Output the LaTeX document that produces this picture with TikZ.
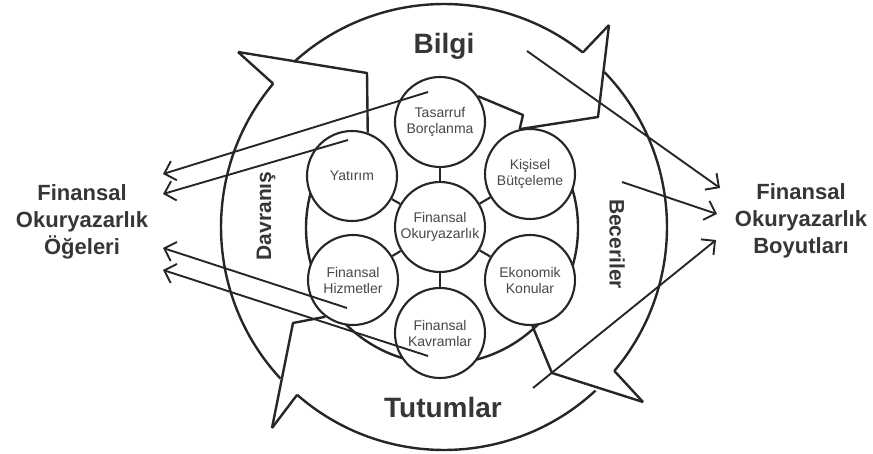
\documentclass[tikz,border=0pt]{standalone}
\usepackage{fontspec}
\setmainfont{Liberation Sans}
\usetikzlibrary{arrows.meta}
\definecolor{inkgray}{HTML}{262626}
\definecolor{labelgray}{HTML}{363636}
\definecolor{smallgray}{HTML}{484848}

\begin{document}
\begin{tikzpicture}[x=1pt,y=-1pt,
  ring/.style={draw=inkgray,line width=2.4pt,line join=round},
  topic/.style={circle,draw=inkgray,line width=2.1pt,fill=white,
    minimum size=90pt,inner sep=0pt,align=center,text=smallgray,
    font=\fontsize{14}{16}\selectfont},
  pointer/.style={draw=inkgray,line width=1.9pt,
    -{Straight Barb[length=10pt,width=20pt]}},
  sidelabel/.style={align=center,text=labelgray,
    font=\fontsize{22}{27}\selectfont\bfseries},
  bandlabel/.style={text=labelgray,font=\fontsize{28}{32}\selectfont\bfseries},
  sidebandlabel/.style={text=labelgray,font=\fontsize{21}{24}\selectfont\bfseries}]

\useasboundingbox (0,0) rectangle (873,454);

%=================================================
% OUTER RING
%=================================================

% outer circle, cut at the four barbs

\draw[ring]
([shift={(444,227)}]227.7:223) arc[start angle=227.7,end angle=308.5,radius=223];
\draw[ring]
([shift={(444,227)}]316:223) arc[start angle=316,end angle=400.2,radius=223];
\draw[ring]
([shift={(444,227)}]47.2:223) arc[start angle=47.2,end angle=131.2,radius=223];
\draw[ring]
([shift={(444,227)}]137.2:223) arc[start angle=137.2,end angle=220,radius=223];

% inner circle, open at the top

\draw[ring]
([shift={(442,228)}]-32:136) arc[start angle=-32,end angle=210,radius=136];

%=================================================
% TOPIC CIRCLES
%=================================================

\node[topic] (cen) at (440,227) {Finansal\\Okuryazarlık};
\node[topic] (tas) at (440,122) {Tasarruf\\Borçlanma};
\node[topic] (kis) at (530,174) {Kişisel\\Bütçeleme};
\node[topic] (eko) at (530,280) {Ekonomik\\Konular};
\node[topic] (kav) at (440,333) {Finansal\\Kavramlar};
\node[topic] (hiz) at (353,280) {Finansal\\Hizmetler};
\node[topic] (yat) at (352,176) {Yatırım};

\foreach \t in {tas,kis,eko,kav,hiz,yat}
{
\draw[draw=inkgray,line width=2.1pt]
(cen)--(\t);
}

%=================================================
% BARBS
%=================================================

% Davranış head (top left)

\draw[ring]
(238,52)--([shift={(444,227)}]220:223);
\draw[ring]
(238,52)--(367,73)--(yat.70);

% Bilgi head (top right)

\draw[ring]
(609,25)--([shift={(444,227)}]308.5:223);
\draw[ring]
(609,25)--(598,117)--(kis.103);
\draw[ring]
(tas.34)--(523,115)--(kis.103);

% Beceriler head (bottom right)

\draw[ring]
(643,402)--([shift={(444,227)}]40.2:223);
\draw[ring]
(643,402)--(552,373)--(eko.-87);

% Tutumlar head (bottom left)

\draw[ring]
(272,428)--([shift={(444,227)}]131.2:223);
\draw[ring]
(272,428)--(293,323)--(hiz.233);

%=================================================
% BAND LABELS
%=================================================

\node[bandlabel] (bil) at (444,46) {Bilgi};
\node[bandlabel] (tut) at (443,407) {Tutumlar};
\node[sidebandlabel,rotate=90] (dav) at (266,216) {Davranış};
\node[sidebandlabel,rotate=-90] (bec) at (617,244) {Beceriler};

%=================================================
% SIDE LABELS AND POINTERS
%=================================================

\node[sidelabel] (oge) at (82,222) {Finansal\\Okuryazarlık\\Öğeleri};
\node[sidelabel] (boy) at (801,221) {Finansal\\Okuryazarlık\\Boyutları};

% left pointers

\coordinate (l1s) at (428,92);  \coordinate (l1e) at (163,174);
\coordinate (l2s) at (348,140); \coordinate (l2e) at (163,194);
\coordinate (l3s) at (347,308); \coordinate (l3e) at (163,248);
\coordinate (l4s) at (428,356); \coordinate (l4e) at (163,270);

\draw[pointer] (l1s)--(l1e);
\draw[pointer] (l2s)--(l2e);
\draw[pointer] (l3s)--(l3e);
\draw[pointer] (l4s)--(l4e);

% right pointers

\coordinate (r1s) at (527,51);  \coordinate (r1e) at (720,188);
\coordinate (r2s) at (622,182); \coordinate (r2e) at (717,214);
\coordinate (r3s) at (533,388); \coordinate (r3e) at (716,240);

\draw[pointer] (r1s)--(r1e);
\draw[pointer] (r2s)--(r2e);
\draw[pointer] (r3s)--(r3e);

\end{tikzpicture}
\end{document}
